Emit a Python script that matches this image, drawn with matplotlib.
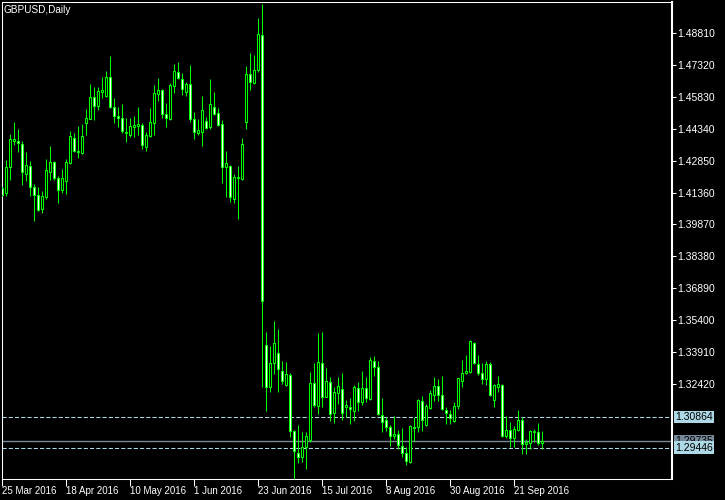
import numpy as np
import matplotlib
matplotlib.use("Agg")
import matplotlib.pyplot as plt
import matplotlib.transforms as mtransforms

# GBPUSD daily bars, 25 Mar 2016 .. 30 Sep 2016
symbol = "GBPUSD,Daily"

opens = [1.4157, 1.4132, 1.4254, 1.4377, 1.4377, 1.4361, 1.4221, 1.4258, 1.4160, 1.4123,
         1.4058, 1.4116, 1.4233, 1.4277, 1.4204, 1.4149, 1.4191, 1.4272, 1.4391, 1.4331,
         1.4319, 1.4459, 1.4481, 1.4581, 1.4541, 1.4607, 1.4588, 1.4674, 1.4534, 1.4493,
         1.4483, 1.4413, 1.4406, 1.4442, 1.4448, 1.4450, 1.4350, 1.4400, 1.4459, 1.4598,
         1.4615, 1.4501, 1.4481, 1.4635, 1.4697, 1.4668, 1.4607, 1.4641, 1.4478, 1.4415,
         1.4420, 1.4470, 1.4443, 1.4537, 1.4506, 1.4455, 1.4257, 1.4260, 1.4107, 1.4202,
         1.4199, 1.4467, 1.4690, 1.4648, 1.4708, 1.4870, 1.3422, 1.3226, 1.3338, 1.3385,
         1.3301, 1.3238, 1.3282, 1.3021, 1.2918, 1.2902, 1.2946, 1.2981, 1.3245, 1.3140,
         1.3338, 1.3182, 1.3250, 1.3107, 1.3198, 1.3217, 1.3136, 1.3134, 1.3117, 1.3222,
         1.3159, 1.3222, 1.3173, 1.3349, 1.3322, 1.3095, 1.3073, 1.3039, 1.2999, 1.3007,
         1.2951, 1.2918, 1.2876, 1.3039, 1.3039, 1.3164, 1.3049, 1.3131, 1.3189, 1.3231,
         1.3189, 1.3120, 1.3100, 1.3070, 1.3137, 1.3257, 1.3292, 1.3296, 1.3432, 1.3334,
         1.3292, 1.3264, 1.3334, 1.3168, 1.3226, 1.3236, 1.2997, 1.3025, 1.2988, 1.3025,
         1.3072, 1.2960, 1.2965, 1.3016, 1.3016, 1.2965]

highs = [1.4162, 1.4288, 1.4409, 1.4465, 1.4433, 1.4377, 1.4325, 1.4282, 1.4176, 1.4162,
         1.4143, 1.4293, 1.4353, 1.4283, 1.4212, 1.4246, 1.4293, 1.4423, 1.4414, 1.4447,
         1.4456, 1.4525, 1.4643, 1.4629, 1.4627, 1.4676, 1.4704, 1.4774, 1.4576, 1.4535,
         1.4549, 1.4484, 1.4483, 1.4495, 1.4535, 1.4461, 1.4419, 1.4531, 1.4638, 1.4671,
         1.4621, 1.4554, 1.4648, 1.4738, 1.4746, 1.4694, 1.4651, 1.4732, 1.4512, 1.4478,
         1.4587, 1.4489, 1.4666, 1.4605, 1.4529, 1.4475, 1.4330, 1.4265, 1.4222, 1.4260,
         1.4391, 1.4727, 1.4786, 1.4778, 1.4951, 1.5018, 1.3485, 1.3419, 1.3536, 1.3499,
         1.3349, 1.3343, 1.3292, 1.3028, 1.3050, 1.3016, 1.3016, 1.3296, 1.3338, 1.3480,
         1.3485, 1.3315, 1.3273, 1.3226, 1.3273, 1.3292, 1.3165, 1.3176, 1.3238, 1.3251,
         1.3302, 1.3273, 1.3368, 1.3372, 1.3349, 1.3176, 1.3086, 1.3050, 1.3094, 1.3025,
         1.3036, 1.2946, 1.3049, 1.3086, 1.3172, 1.3184, 1.3148, 1.3214, 1.3274, 1.3264,
         1.3279, 1.3136, 1.3120, 1.3158, 1.3270, 1.3352, 1.3377, 1.3447, 1.3436, 1.3376,
         1.3338, 1.3348, 1.3343, 1.3240, 1.3278, 1.3240, 1.3091, 1.3063, 1.3044, 1.3119,
         1.3086, 1.2983, 1.3027, 1.3031, 1.3058, 1.3021]

lows = [1.4120, 1.4120, 1.4194, 1.4358, 1.4327, 1.4171, 1.4191, 1.4120, 1.4003, 1.4050,
        1.4040, 1.4106, 1.4194, 1.4194, 1.4088, 1.4135, 1.4130, 1.4269, 1.4327, 1.4299,
        1.4316, 1.4406, 1.4479, 1.4476, 1.4523, 1.4577, 1.4582, 1.4532, 1.4462, 1.4443,
        1.4413, 1.4373, 1.4394, 1.4394, 1.4405, 1.4341, 1.4331, 1.4397, 1.4406, 1.4565,
        1.4484, 1.4443, 1.4476, 1.4602, 1.4665, 1.4591, 1.4587, 1.4465, 1.4387, 1.4406,
        1.4353, 1.4434, 1.4434, 1.4497, 1.4445, 1.4182, 1.4115, 1.4092, 1.4087, 1.4014,
        1.4196, 1.4433, 1.4615, 1.4643, 1.4699, 1.3229, 1.3117, 1.3203, 1.3288, 1.3206,
        1.3243, 1.3234, 1.2995, 1.2798, 1.2874, 1.2879, 1.2846, 1.2969, 1.3136, 1.3101,
        1.3133, 1.3181, 1.3069, 1.3059, 1.3147, 1.3075, 1.3089, 1.3056, 1.3070, 1.3117,
        1.3143, 1.3156, 1.3168, 1.3279, 1.3097, 1.3019, 1.3023, 1.2953, 1.2985, 1.2937,
        1.2902, 1.2863, 1.2874, 1.2975, 1.3019, 1.3022, 1.3044, 1.3123, 1.3164, 1.3164,
        1.3119, 1.3056, 1.3056, 1.3063, 1.3125, 1.3229, 1.3287, 1.3294, 1.3334, 1.3285,
        1.3240, 1.3236, 1.3184, 1.3136, 1.3203, 1.2995, 1.2991, 1.2946, 1.2946, 1.3021,
        1.2913, 1.2913, 1.2937, 1.2969, 1.2955, 1.2937]

closes = [1.4124, 1.4254, 1.4385, 1.4385, 1.4366, 1.4231, 1.4263, 1.4160, 1.4123, 1.4054,
          1.4120, 1.4241, 1.4277, 1.4202, 1.4149, 1.4204, 1.4277, 1.4399, 1.4331, 1.4324,
          1.4400, 1.4483, 1.4581, 1.4541, 1.4609, 1.4615, 1.4674, 1.4535, 1.4495, 1.4485,
          1.4425, 1.4420, 1.4445, 1.4451, 1.4456, 1.4359, 1.4403, 1.4464, 1.4599, 1.4613,
          1.4504, 1.4485, 1.4638, 1.4702, 1.4672, 1.4621, 1.4641, 1.4481, 1.4417, 1.4428,
          1.4520, 1.4439, 1.4548, 1.4504, 1.4451, 1.4254, 1.4272, 1.4114, 1.4208, 1.4208,
          1.4361, 1.4690, 1.4654, 1.4707, 1.4876, 1.3631, 1.3226, 1.3338, 1.3432, 1.3310,
          1.3257, 1.3287, 1.3021, 1.2927, 1.2902, 1.2946, 1.2997, 1.3245, 1.3145, 1.3343,
          1.3182, 1.3254, 1.3103, 1.3203, 1.3231, 1.3107, 1.3143, 1.3126, 1.3226, 1.3159,
          1.3222, 1.3175, 1.3352, 1.3322, 1.3101, 1.3063, 1.3039, 1.3000, 1.3007, 1.2955,
          1.2918, 1.2881, 1.3044, 1.3036, 1.3167, 1.3073, 1.3137, 1.3198, 1.3231, 1.3189,
          1.3125, 1.3105, 1.3081, 1.3137, 1.3268, 1.3292, 1.3301, 1.3442, 1.3338, 1.3292,
          1.3264, 1.3334, 1.3189, 1.3236, 1.3240, 1.2997, 1.3025, 1.2988, 1.3030, 1.3072,
          1.2960, 1.2969, 1.3022, 1.3022, 1.2965, 1.29735]

date_labels = ["25 Mar 2016", "18 Apr 2016", "10 May 2016", "1 Jun 2016", "23 Jun 2016",
               "15 Jul 2016", "8 Aug 2016", "30 Aug 2016", "21 Sep 2016"]
price_ticks = [1.48810, 1.47320, 1.45830, 1.44340, 1.42850, 1.41360, 1.39870,
               1.38380, 1.36890, 1.35400, 1.33910, 1.32420]
level_lines = [1.30864, 1.29446]
bid_price = 1.29735

GREEN = "#00ff00"
LEVEL = "#add8e6"
BID = "#778899"

plt.rcParams["font.family"] = ["Liberation Sans", "DejaVu Sans"]

fig = plt.figure(figsize=(7.25, 5), dpi=100, facecolor="black")
ax = fig.add_axes([2 / 725, 21 / 500, 670 / 725, 477 / 500], facecolor="black")

o = np.array(opens)
h = np.array(highs)
l = np.array(lows)
c = np.array(closes)
x = np.arange(len(o))
up = c >= o

# wicks, then bodies on top (bull = black body, bear = white body)
ax.vlines(x, l, h, color=GREEN, lw=0.75, zorder=3)
body_h = np.maximum(np.abs(c - o), 0.00002)
ax.bar(x, body_h, bottom=np.minimum(o, c), width=0.5,
       color=np.where(up, "black", "white"), edgecolor=GREEN, linewidth=0.75, zorder=4)

# horizontal levels
for lv in level_lines:
    ax.axhline(lv, color=LEVEL, lw=0.75, linestyle=(0, (4, 2)), zorder=2)
ax.axhline(bid_price, color=BID, lw=1.0, zorder=2)

ax.set_xlim(-0.075, 167.425)
ax.set_ylim(1.27978, 1.50258)

# axes style
for side in ["left", "top", "bottom", "right"]:
    ax.spines[side].set_color("white")
    ax.spines[side].set_linewidth(0.75)
ax.spines["right"].set_linewidth(1.5)

ax.yaxis.tick_right()
ax.set_yticks(price_ticks)
ax.set_yticklabels(["%.5f" % t for t in price_ticks])
ax.tick_params(axis="y", colors="white", length=3, width=0.75, pad=1, labelsize=7.5)

ax.set_xticks(x[::16])
ax.set_xticklabels(date_labels, ha="left")
ax.tick_params(axis="x", colors="white", length=5, width=0.75, pad=0, labelsize=7)

# price labels on the right scale (bid label sits under the lower level label)
trans = mtransforms.blended_transform_factory(ax.transAxes, ax.transData)
ax.text(1.0052, bid_price, "%.5f" % bid_price, transform=trans, ha="left", va="center",
        fontsize=7.5, color="black", clip_on=False,
        bbox=dict(boxstyle="square,pad=0.12", fc=BID, ec="none"))
for lv in level_lines:
    ax.text(1.0052, lv, "%.5f" % lv, transform=trans, ha="left", va="center",
            fontsize=7.5, color="black", clip_on=False,
            bbox=dict(boxstyle="square,pad=0.12", fc=LEVEL, ec="none"))

fig.text(4 / 725, 1 - 10 / 500, symbol, color="white", fontsize=7.2, ha="left", va="center")

fig.savefig("out.png", dpi=100, facecolor="black")
